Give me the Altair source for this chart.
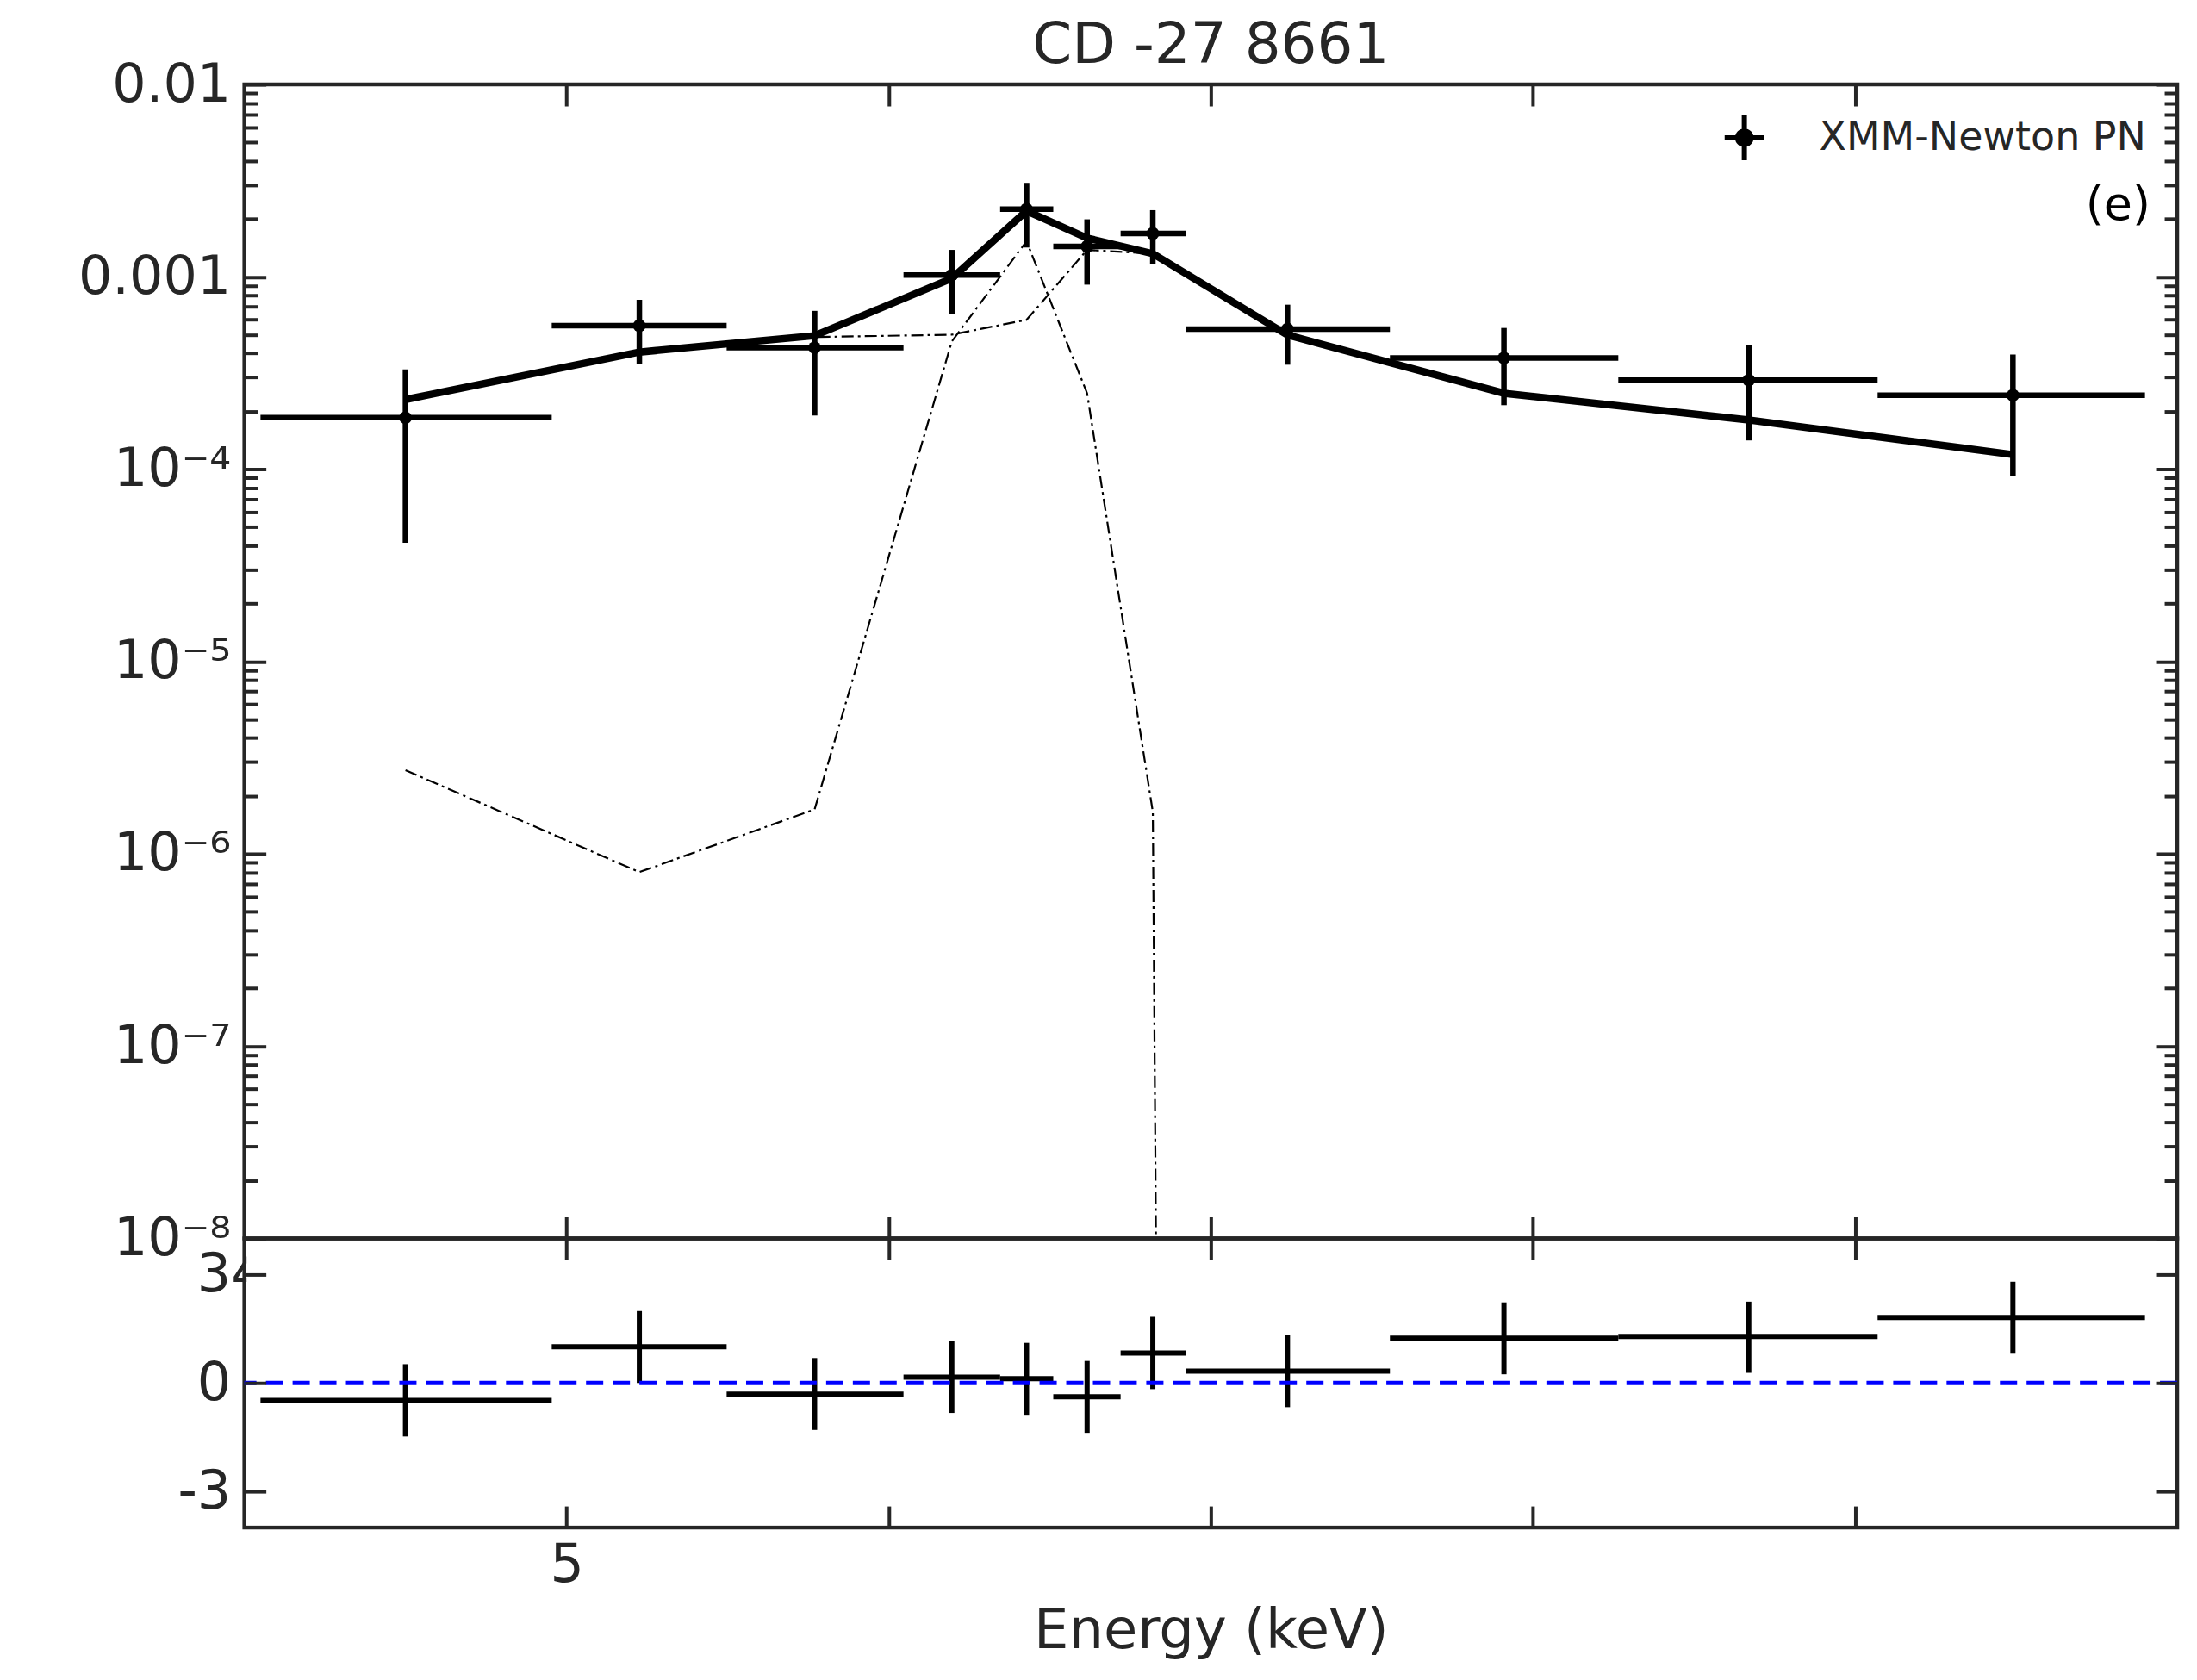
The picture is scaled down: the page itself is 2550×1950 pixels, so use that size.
import altair as alt
import pandas as pd

# ---------------- data ----------------
energy = [4.50, 5.226, 5.77, 6.196, 6.428, 6.616, 6.82, 7.238, 7.91, 8.67, 9.49]
energy_lo = [4.05, 4.954, 5.497, 6.046, 6.346, 6.511, 6.72, 6.924, 7.556, 8.265, 9.07]
energy_hi = [4.954, 5.497, 6.046, 6.346, 6.511, 6.72, 6.924, 7.556, 8.265, 9.07, 9.90]

flux = [1.85e-4, 5.57e-4, 4.28e-4, 1.02e-3, 2.25e-3, 1.44e-3, 1.68e-3, 5.35e-4, 3.78e-4, 2.90e-4, 2.42e-4]
flux_lo = [4.14e-5, 3.53e-4, 1.90e-4, 6.43e-4, 1.42e-3, 9.1e-4, 1.16e-3, 3.49e-4, 2.15e-4, 1.41e-4, 9.18e-5]
flux_hi = [3.30e-4, 7.59e-4, 6.65e-4, 1.38e-3, 3.08e-3, 1.99e-3, 2.22e-3, 7.16e-4, 5.42e-4, 4.41e-4, 3.94e-4]

model_total = [2.30e-4, 4.06e-4, 4.94e-4, 9.8e-4, 2.2e-3, 1.59e-3, 1.32e-3, 4.98e-4, 2.48e-4, 1.80e-4, 1.19e-4]
model_cont = [2.30e-4, 4.06e-4, 4.86e-4, 5.0e-4, 5.97e-4, 1.38e-3, 1.32e-3, 4.98e-4, 2.48e-4, 1.80e-4, 1.19e-4]
gauss_energy = [4.50, 5.226, 5.77, 6.196, 6.428, 6.616, 6.82, 7.238]
model_gauss = [2.72e-6, 8.03e-7, 1.70e-6, 4.61e-4, 1.53e-3, 2.48e-4, 1.65e-6, 1e-100]

resid = [-0.48, 1.00, -0.31, 0.16, 0.12, -0.38, 0.83, 0.33, 1.24, 1.29, 1.81]
resid_lo = [-1.48, 0.00, -1.30, -0.83, -0.88, -1.38, -0.17, -0.67, 0.24, 0.28, 0.81]
resid_hi = [0.52, 1.99, 0.69, 1.16, 1.11, 0.61, 1.83, 1.33, 2.23, 2.25, 2.80]

x_ticks = [5, 6, 7, 8, 9]
y_major = [1e-8, 1e-7, 1e-6, 1e-5, 1e-4, 1e-3, 1e-2]
y_minor = [k * 10.0 ** d for d in range(-8, -2) for k in range(2, 10)]
r_ticks = [-3, 0, 3]

series_name = "XMM-Newton PN"

# ---------------- style ----------------
W, HT, HR = 2246, 1341, 336
AX = "#262626"
FONT = "DejaVu Sans"
MAJ, MIN = 25, 15

xs = alt.Scale(domain=[4, 10], nice=False, zero=False)
ys = alt.Scale(type="log", domain=[1e-8, 1e-2], nice=False)
rs = alt.Scale(domain=[-4, 4], nice=False, zero=False)


def tick_axis(orient, values, size):
    # ticks drawn inward: axis shifted inside by its tick length
    return alt.Axis(orient=orient, values=values, tickSize=size, offset=-size,
                    ticks=True, domain=False, labels=False, grid=False, title=None,
                    tickColor=AX, tickWidth=4, zindex=1, minExtent=0)


sup = {4: "⁴", 5: "⁵", 6: "⁶", 7: "⁷", 8: "⁸"}
lg = "round(log(datum.value)/LN10)"
label_expr = f"{lg} == -2 ? '0.01' : {lg} == -3 ? '0.001' : "
for k in range(4, 9):
    label_expr += f"{lg} == -{k} ? '10⁻{sup[k]}' : "
label_expr += "''"

y_label_axis = alt.Axis(orient="left", values=y_major, tickSize=MAJ, offset=-MAJ,
                        domain=False, grid=False, title=None, labelExpr=label_expr,
                        labelFont=FONT, labelFontSize=62, labelColor=AX, labelPadding=16,
                        tickColor=AX, tickWidth=4, zindex=1)

df = pd.DataFrame(dict(E=energy, lo=energy_lo, hi=energy_hi, f=flux, flo=flux_lo,
                       fhi=flux_hi, m=model_total, c=model_cont))
df["series"] = series_name
gdf = pd.DataFrame(dict(E=gauss_energy, g=model_gauss))

dashdot = [14, 5, 3, 5]

gauss_line = alt.Chart(gdf).mark_line(color="black", strokeWidth=2.2, strokeDash=dashdot,
                                      clip=True).encode(
    x=alt.X("E:Q", scale=xs, axis=tick_axis("top", x_ticks, MAJ)),
    y=alt.Y("g:Q", scale=ys, axis=y_label_axis),
)
cont_line = alt.Chart(df).mark_line(color="black", strokeWidth=2.2, strokeDash=dashdot,
                                    clip=True).encode(
    x=alt.X("E:Q", scale=xs, axis=tick_axis("bottom", x_ticks, MAJ)),
    y=alt.Y("c:Q", scale=ys, axis=tick_axis("left", y_minor, MIN)),
)
model_line = alt.Chart(df).mark_line(color="black", strokeWidth=8.5, clip=True).encode(
    x=alt.X("E:Q", scale=xs, axis=None),
    y=alt.Y("m:Q", scale=ys, axis=tick_axis("right", y_major, MAJ)),
)
xerr = alt.Chart(df).mark_rule(color="black", strokeWidth=6.5).encode(
    x=alt.X("lo:Q", scale=xs, axis=None),
    x2="hi:Q",
    y=alt.Y("f:Q", scale=ys, axis=tick_axis("right", y_minor, MIN)),
)
yerr = alt.Chart(df).mark_rule(color="black", strokeWidth=6.5).encode(
    x=alt.X("E:Q", scale=xs, axis=None),
    y=alt.Y("flo:Q", scale=ys, axis=None),
    y2="fhi:Q",
)
cross_path = ("M-0.88,0L0.88,0M0,-1L0,1"
              "M-0.3,0A0.3,0.3,0,1,1,0.3,0A0.3,0.3,0,1,1,-0.3,0Z")
points = alt.Chart(df).mark_circle(size=220, opacity=1, stroke="black", strokeWidth=0).encode(
    x=alt.X("E:Q", scale=xs, axis=None),
    y=alt.Y("f:Q", scale=ys, axis=None),
    color=alt.Color("series:N",
                    scale=alt.Scale(domain=[series_name], range=["black"]),
                    legend=alt.Legend(title=None, orient="none", legendX=1714, legendY=33,
                                      padding=0, symbolType=cross_path, symbolSize=2704,
                                      symbolStrokeWidth=6, symbolStrokeColor="black",
                                      symbolFillColor="black", symbolOpacity=1,
                                      labelFont=FONT, labelFontSize=46, labelColor=AX,
                                      labelOffset=58, labelLimit=800)),
)
panel_tag = alt.Chart(pd.DataFrame({"t": ["(e)"]})).mark_text(
    align="right", baseline="middle", font=FONT, fontSize=54, color="black").encode(
    text="t:N", x=alt.value(2215), y=alt.value(141))

top = alt.layer(gauss_line, cont_line, model_line, xerr, yerr, points, panel_tag).resolve_axis(
    x="independent", y="independent").properties(
    width=W, height=HT,
    title=alt.TitleParams(text="CD -27 8661", fontSize=66, font=FONT, fontWeight="normal",
                          color=AX, offset=-20, anchor="middle"))

# ---------------- residual panel ----------------
rdf = pd.DataFrame(dict(E=energy, lo=energy_lo, hi=energy_hi, r=resid, rlo=resid_lo,
                        rhi=resid_hi))

bg = alt.Chart(pd.DataFrame({"a": [0]})).mark_rect(fill="white").encode(
    x=alt.value(2.5), x2=alt.value(W - 2.5), y=alt.value(2.5), y2=alt.value(HR - 2.5))

x_label_axis = alt.Axis(orient="bottom", values=x_ticks, tickSize=MAJ, offset=-MAJ,
                        domain=False, grid=False, labelExpr="datum.value == 5 ? '5' : ''",
                        labelFont=FONT, labelFontSize=62, labelColor=AX, labelPadding=14,
                        labelFlush=False,
                        title="Energy (keV)", titleFont=FONT, titleFontSize=64,
                        titleFontWeight="normal", titleColor=AX, titlePadding=14,
                        tickColor=AX, tickWidth=4, zindex=1)
r_label_axis = alt.Axis(orient="left", values=r_ticks, tickSize=MAJ, offset=-MAJ,
                        domain=False, grid=False, title=None,
                        labelExpr="datum.value == 0 ? '0' : (datum.value > 0 ? '3' : '-3')",
                        labelFont=FONT, labelFontSize=62, labelColor=AX, labelPadding=16,
                        tickColor=AX, tickWidth=4, zindex=1)
four_axis = alt.Axis(orient="left", values=[3], ticks=False, domain=False, grid=False,
                     title=None, labelExpr="'4'", labelAlign="left", labelPadding=16,
                     labelFont=FONT, labelFontSize=62, labelColor=AX, zindex=0)

rxerr = alt.Chart(rdf).mark_rule(color="black", strokeWidth=6).encode(
    x=alt.X("lo:Q", scale=xs, axis=x_label_axis),
    x2="hi:Q",
    y=alt.Y("r:Q", scale=rs, axis=r_label_axis),
)
ryerr = alt.Chart(rdf).mark_rule(color="black", strokeWidth=6).encode(
    x=alt.X("E:Q", scale=xs, axis=tick_axis("top", x_ticks, MAJ)),
    y=alt.Y("rlo:Q", scale=rs, axis=tick_axis("right", r_ticks, MAJ)),
    y2="rhi:Q",
)
zero_line = alt.Chart(pd.DataFrame({"z": [0]})).mark_rule(
    color="#0000ff", strokeWidth=5, strokeDash=[20, 11]).encode(
    y=alt.Y("z:Q", scale=rs, axis=four_axis))

bottom = alt.layer(bg, rxerr, ryerr, zero_line).resolve_axis(
    x="independent", y="independent").properties(width=W, height=HR)

chart = alt.vconcat(top, bottom, spacing=0, bounds="flush").properties(
    padding={"left": 80, "top": 8, "right": 10, "bottom": 10}
).configure(font=FONT, view=alt.ViewConfig(stroke=AX, strokeWidth=4.5))

chart.save("out.html", embed_options={"renderer": "svg", "actions": False})
